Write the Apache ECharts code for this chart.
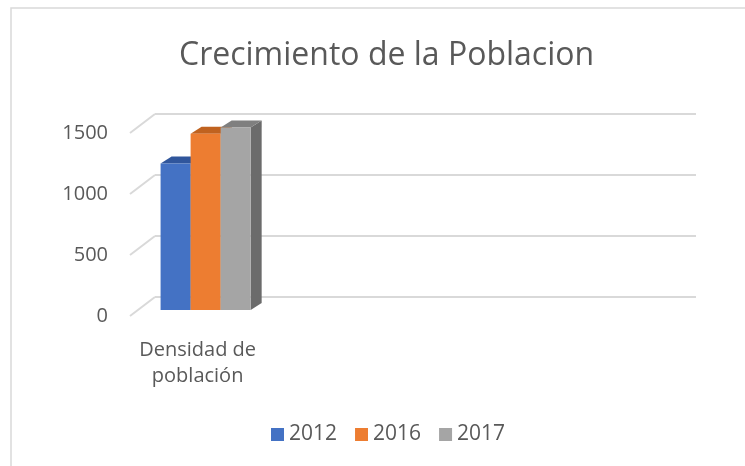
<!DOCTYPE html>
<html>
<head>
<meta charset="utf-8">
<script src="https://cdn.jsdelivr.net/npm/echarts@6/dist/echarts.min.js"></script>
<style>
    html, body { margin: 0; padding: 0; background: #fff; }
    #chart { width: 745px; height: 466px; }
</style>
</head>
<body>
<div id="chart"></div>
<script>
// datos de la hoja (las 3 ultimas categorias estan vacias)
var categories = ['Densidad de\npoblación', '', '', ''];
var years = ['2012', '2016', '2017'];
var values2012 = [1200, null, null, null];
var values2016 = [1445, null, null, null];
var values2017 = [1495, null, null, null];
var yTicks = [0, 500, 1000, 1500];

var seriesValues = [values2012, values2016, values2017];
var faceColors = [
    {front: '#4472C4', top: '#30569c', side: '#2c4f8f'},
    {front: '#ED7D31', top: '#c0621f', side: '#b3591b'},
    {front: '#A5A5A5', top: '#7f7f7f', side: '#6b6b6b'}
];
var textColor = '#595959';
var lineColor = '#d9d9d9';
var depthX = 25, depthY = 19;   // profundidad de la pared
var barDX = 11, barDY = 7;      // profundidad de cada barra

function barRenderer(offset, colors) {
    return function (params, api) {
        var v = api.value(1);
        if (v == null || isNaN(v)) {
            return;
        }
        var base = api.coord([api.value(0), 0]);
        var top = api.coord([api.value(0), v]);
        var band = api.size([1, 0])[0];
        var w = band * 0.222;
        var x0 = base[0] + (offset - 0.5) * w;
        var x1 = x0 + w;
        return {
            type: 'group',
            children: [
                {
                    type: 'polygon',
                    shape: {points: [[x1, top[1]], [x1 + barDX, top[1] - barDY], [x1 + barDX, base[1] - barDY], [x1, base[1]]]},
                    style: {fill: colors.side}
                },
                {
                    type: 'polygon',
                    shape: {points: [[x0, top[1]], [x1, top[1]], [x1 + barDX, top[1] - barDY], [x0 + barDX, top[1] - barDY]]},
                    style: {fill: colors.top}
                },
                {
                    type: 'rect',
                    shape: {x: x0, y: top[1], width: w, height: base[1] - top[1]},
                    style: {fill: colors.front}
                }
            ]
        };
    };
}

var series = [
    {
        // diagonales de la pared
        name: 'pared',
        type: 'custom',
        xAxisIndex: 0,
        yAxisIndex: 0,
        silent: true,
        data: yTicks.map(function (t) { return [0, t]; }),
        renderItem: function (params, api) {
            var p = api.coord([0, api.value(1)]);
            return {
                type: 'line',
                shape: {x1: p[0] - depthX, y1: p[1] + depthY, x2: p[0], y2: p[1]},
                style: {stroke: lineColor, lineWidth: 2}
            };
        }
    }
];

for (var i = 0; i < years.length; i++) {
    series.push({
        name: years[i],
        type: 'custom',
        xAxisIndex: 2,
        yAxisIndex: 2,
        itemStyle: {color: faceColors[i].front},
        encode: {x: 0, y: 1},
        data: seriesValues[i].map(function (v, j) { return [j, v]; }),
        renderItem: barRenderer(i - 1, faceColors[i])
    });
}

var option = {
    animation: false,
    backgroundColor: '#fff',
    title: {
        text: 'Crecimiento de la Poblacion',
        left: 174,
        top: 35,
        textStyle: {
            fontFamily: 'Open Sans',
            fontWeight: 'normal',
            fontSize: 32,
            color: textColor
        }
    },
    legend: {
        data: years,
        top: 419,
        left: 266,
        icon: 'rect',
        itemWidth: 13,
        itemHeight: 13,
        itemGap: 18,
        textStyle: {fontFamily: 'Open Sans', fontSize: 21, color: textColor}
    },
    graphic: [
        {
            type: 'rect',
            silent: true,
            shape: {x: 11, y: 8, width: 760, height: 480},
            style: {fill: 'none', stroke: lineColor, lineWidth: 1.5}
        }
    ],
    grid: [
        // pared del fondo
        {left: 155, right: 49, top: 114, bottom: 169},
        // plano delantero (etiquetas)
        {left: 130, right: 74, top: 133, bottom: 150},
        // plano de las barras
        {left: 138, right: 66, top: 127, bottom: 156}
    ],
    xAxis: [
        {gridIndex: 0, type: 'value', min: 0, max: 1, show: false},
        {
            gridIndex: 1,
            type: 'category',
            data: categories,
            axisLine: {show: false},
            axisTick: {show: false},
            axisLabel: {
                margin: 21,
                interval: 0,
                fontFamily: 'Open Sans',
                fontSize: 20,
                lineHeight: 26,
                color: textColor
            }
        },
        {gridIndex: 2, type: 'category', data: categories, show: false}
    ],
    yAxis: [
        {
            gridIndex: 0,
            type: 'value',
            min: 0,
            max: 1500,
            interval: 500,
            axisLabel: {show: false},
            axisLine: {show: false},
            axisTick: {show: false},
            splitLine: {lineStyle: {color: lineColor, width: 2}}
        },
        {
            gridIndex: 1,
            type: 'value',
            min: 0,
            max: 1500,
            interval: 500,
            axisLine: {show: false},
            axisTick: {show: false},
            splitLine: {show: false},
            axisLabel: {
                margin: 22,
                fontFamily: 'Open Sans',
                fontSize: 20,
                color: textColor,
                formatter: function (v) { return String(v); }
            }
        },
        {gridIndex: 2, type: 'value', min: 0, max: 1500, interval: 500, show: false}
    ],
    series: series
};

var chart = echarts.init(document.getElementById('chart'));
chart.setOption(option);
</script>
</body>
</html>
